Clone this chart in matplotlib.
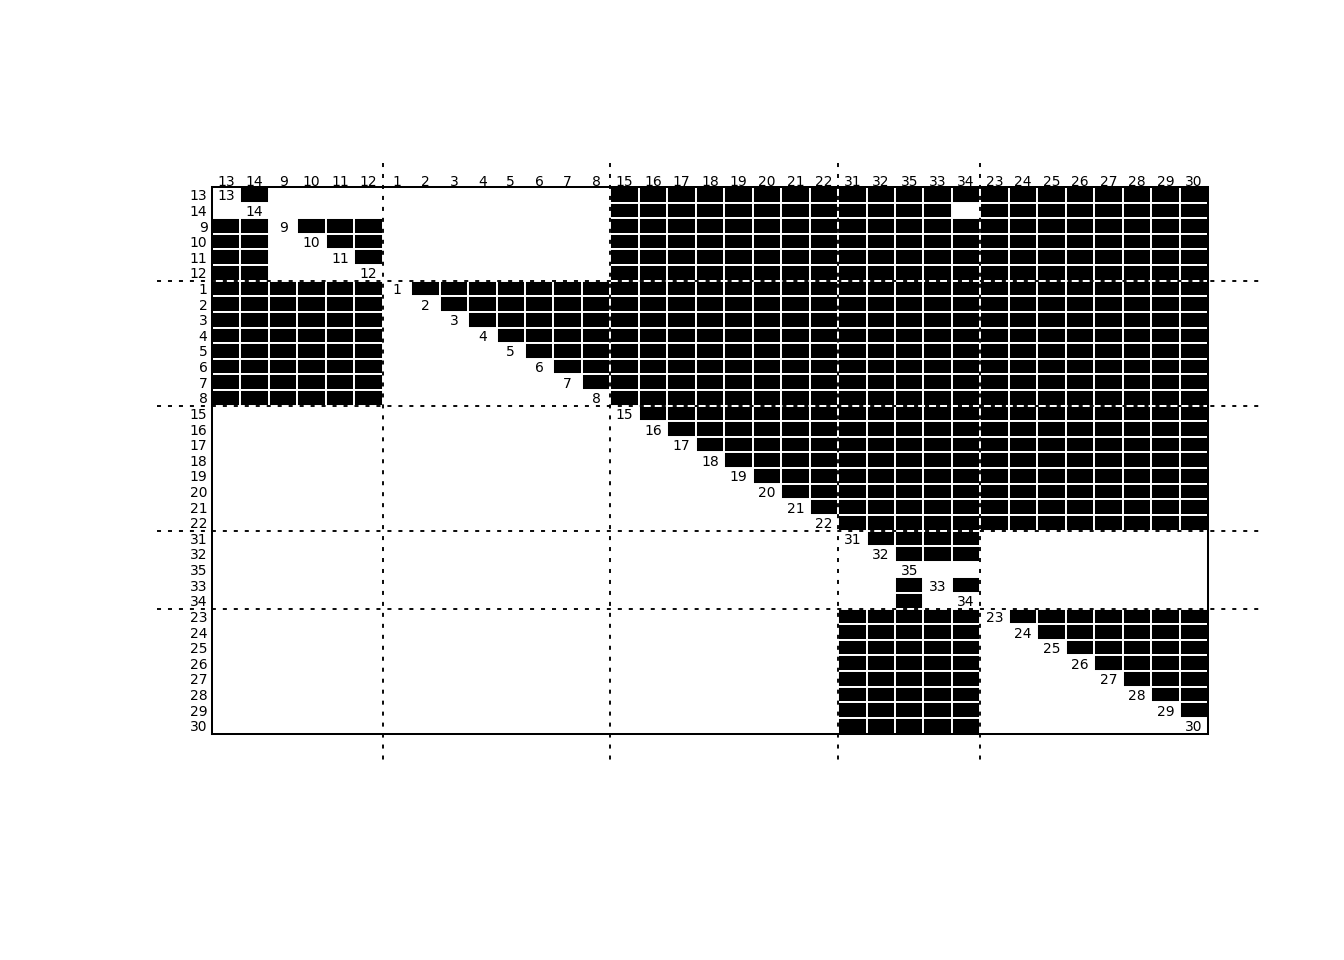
import matplotlib
matplotlib.use("Agg")
import matplotlib.pyplot as plt
from matplotlib.patches import Rectangle
import numpy as np

# ---- data (ordered actors, block sizes, tie matrix) ----
labels = ["13", "14", "9", "10", "11", "12",
          "1", "2", "3", "4", "5", "6", "7", "8",
          "15", "16", "17", "18", "19", "20", "21", "22",
          "31", "32", "35", "33", "34",
          "23", "24", "25", "26", "27", "28", "29", "30"]
group_sizes = [6, 8, 8, 5, 8]

# one string per row ('-' = diagonal, '1' = tie, '0' = no tie); spaces separate blocks
ties = [
    "-10000 00000000 11111111 11111 11111111",  # 13
    "0-0000 00000000 11111111 11110 11111111",  # 14
    "11-111 00000000 11111111 11111 11111111",  # 9
    "110-11 00000000 11111111 11111 11111111",  # 10
    "1100-1 00000000 11111111 11111 11111111",  # 11
    "11000- 00000000 11111111 11111 11111111",  # 12
    "111111 -1111111 11111111 11111 11111111",  # 1
    "111111 0-111111 11111111 11111 11111111",  # 2
    "111111 00-11111 11111111 11111 11111111",  # 3
    "111111 000-1111 11111111 11111 11111111",  # 4
    "111111 0000-111 11111111 11111 11111111",  # 5
    "111111 00000-11 11111111 11111 11111111",  # 6
    "111111 000000-1 11111111 11111 11111111",  # 7
    "111111 0000000- 11111111 11111 11111111",  # 8
    "000000 00000000 -1111111 11111 11111111",  # 15
    "000000 00000000 0-111111 11111 11111111",  # 16
    "000000 00000000 00-11111 11111 11111111",  # 17
    "000000 00000000 000-1111 11111 11111111",  # 18
    "000000 00000000 0000-111 11111 11111111",  # 19
    "000000 00000000 00000-11 11111 11111111",  # 20
    "000000 00000000 000000-1 11111 11111111",  # 21
    "000000 00000000 0000000- 11111 11111111",  # 22
    "000000 00000000 00000000 -1111 00000000",  # 31
    "000000 00000000 00000000 0-111 00000000",  # 32
    "000000 00000000 00000000 00-00 00000000",  # 35
    "000000 00000000 00000000 001-1 00000000",  # 33
    "000000 00000000 00000000 0010- 00000000",  # 34
    "000000 00000000 00000000 11111 -1111111",  # 23
    "000000 00000000 00000000 11111 0-111111",  # 24
    "000000 00000000 00000000 11111 00-11111",  # 25
    "000000 00000000 00000000 11111 000-1111",  # 26
    "000000 00000000 00000000 11111 0000-111",  # 27
    "000000 00000000 00000000 11111 00000-11",  # 28
    "000000 00000000 00000000 11111 000000-1",  # 29
    "000000 00000000 00000000 11111 0000000-",  # 30
]

# ---- layout ----
W, H, DPI = 1344, 960, 100
box_l, box_r, box_t, box_b = 212, 1208, 187, 733.5
n = len(labels)
cw = (box_r - box_l) / n
ch = (box_b - box_t) / n

plt.rcParams['font.family'] = ['DejaVu Sans']
plt.rcParams['lines.scale_dashes'] = False
fs = 10

fig = plt.figure(figsize=(W / DPI, H / DPI), dpi=DPI)
fig.patch.set_facecolor('white')
ax = fig.add_axes([box_l / W, 1 - box_b / H, (box_r - box_l) / W, (box_b - box_t) / H])
ax.set_xlim(0, n)
ax.set_ylim(n, 0)
ax.set_xticks([])
ax.set_yticks([])
for s in ax.spines.values():
    s.set_linewidth(1.45)
    s.set_zorder(4)

mat = [r.replace(" ", "") for r in ties]
for i, row in enumerate(mat):
    for j, c in enumerate(row):
        if c == '1':
            ax.add_patch(Rectangle((j, i), 1, 1, facecolor='black',
                                   edgecolor='white', linewidth=1.4, zorder=1))
        elif c == '-':
            ax.text(j + 0.5, i + 0.5, labels[i], ha='center',
                    va='center_baseline', fontsize=fs, zorder=2)

# row and column labels
for k, lab in enumerate(labels):
    ax.text(-4.5 / cw, k + 0.5, lab, ha='right', va='center_baseline',
            fontsize=fs, clip_on=False)
    ax.text(k + 0.5, -0.5 / ch, lab, ha='center', va='baseline',
            fontsize=fs, clip_on=False)

# block separators (dotted/dashed lines extending beyond the box)
bounds = np.cumsum(group_sizes)[:-1]
x0, x1 = (157 - box_l) / cw, (1260 - box_l) / cw
y0, y1 = (163 - box_t) / ch, (763 - box_t) / ch
dash = (2.9, 5.0)
for b in bounds:
    ax.plot([x0, x1], [b, b], color='black', lw=1.35, dashes=dash,
            clip_on=False, zorder=5, solid_capstyle='butt', dash_capstyle='butt')
    ax.plot([b, b], [y0, y1], color='black', lw=1.35, dashes=dash,
            clip_on=False, zorder=5, solid_capstyle='butt', dash_capstyle='butt')

fig.savefig("out.png", dpi=DPI, facecolor='white')
